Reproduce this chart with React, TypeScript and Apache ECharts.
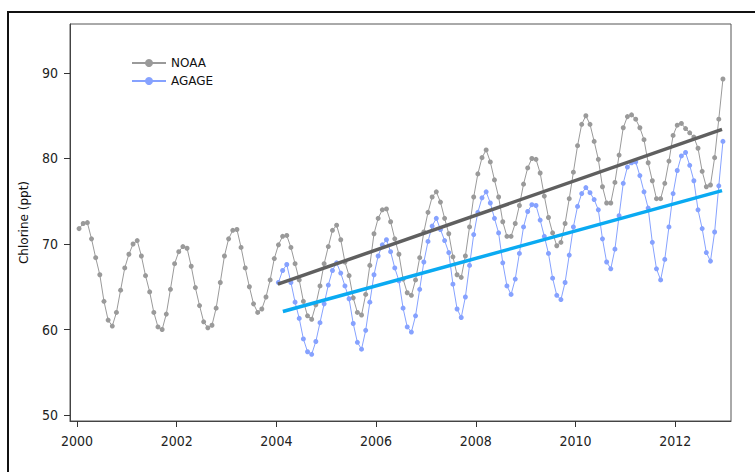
import React, { useEffect, useRef } from "react";
import * as echarts from "echarts";

// Monthly chlorine (ppt), NOAA from Jan 2000, AGAGE from Jan 2004
const noaaStartYear = 2000;
const noaaValues = [
  71.8, 72.4, 72.5, 70.6, 68.4, 66.4, 63.3, 61.1, 60.4, 62.0, 64.6, 67.2,
  68.8, 70.0, 70.4, 68.6, 66.3, 64.4, 62.0, 60.3, 60.0, 61.8, 64.7, 67.7,
  69.1, 69.7, 69.5, 67.4, 64.9, 62.8, 60.9, 60.2, 60.5, 62.5, 65.5, 68.6,
  70.6, 71.6, 71.7, 69.6, 67.2, 65.0, 63.0, 62.0, 62.4, 63.8, 65.8, 68.3,
  69.9, 70.9, 71.0, 69.6, 67.7, 65.8, 63.3, 61.6, 61.2, 62.9, 65.1, 67.7,
  69.7, 71.6, 72.2, 70.5, 67.9, 66.3, 63.7, 62.0, 61.7, 64.1, 67.5, 71.2,
  73.0, 74.0, 74.1, 72.6, 70.6, 68.8, 65.9, 64.3, 64.0, 65.8, 68.4, 71.4,
  73.7, 75.5, 76.1, 74.9, 73.0, 71.2, 68.5, 66.4, 66.1, 68.6, 72.0, 75.5,
  78.2, 80.1, 81.0, 79.6, 77.5, 75.5, 72.6, 70.9, 70.9, 72.4, 74.5, 77.0,
  78.9, 80.0, 79.9, 78.3, 75.6, 73.1, 71.3, 69.8, 70.2, 72.4, 75.3, 78.4,
  81.5, 84.0, 85.0, 84.0, 82.0, 79.9, 76.7, 74.8, 74.8, 77.2, 80.4, 83.6,
  84.9, 85.1, 84.6, 83.6, 82.2, 79.5, 77.4, 75.3, 75.3, 77.1, 79.7, 82.7,
  83.9, 84.1, 83.5, 83.0, 82.5, 81.2, 78.5, 76.7, 76.9, 80.1, 84.6, 89.3,
];

const agageStartYear = 2004;
const agageValues = [
  65.5, 66.9, 67.6, 65.5, 63.2, 61.3, 58.9, 57.4, 57.1, 58.6, 60.8, 63.0,
  65.2, 66.9, 67.8, 66.6, 65.1, 63.6, 60.7, 58.5, 57.7, 59.9, 63.2, 66.4,
  68.6, 69.9, 70.5, 69.1, 67.2, 65.7, 62.5, 60.3, 59.7, 61.6, 64.7, 67.9,
  70.3, 72.1, 73.0, 71.7, 70.4, 69.0, 65.3, 62.4, 61.4, 63.8, 67.5, 71.1,
  73.7, 75.4, 76.1, 74.8, 73.0, 71.3, 67.8, 65.1, 64.1, 65.9, 68.9, 72.0,
  73.8, 74.6, 74.5, 72.8, 70.9, 68.9, 66.0, 64.0, 63.5, 65.5, 68.7, 72.0,
  74.4, 75.9, 76.6, 76.0, 75.2, 74.0, 70.6, 67.9, 67.1, 69.4, 73.3, 77.1,
  79.0, 79.5, 79.6, 78.0, 76.1, 74.2, 70.2, 67.1, 65.8, 68.2, 72.0, 75.9,
  78.6, 80.3, 80.7, 79.2, 77.4, 74.0, 71.8, 69.0, 68.0, 71.4, 76.8, 82.0,
];

// Linear trend end points [year, ppt]
const noaaTrendYears = [2004.03, 2012.94];
const noaaTrendValues = [65.3, 83.4];
const agageTrendYears = [2004.13, 2012.94];
const agageTrendValues = [62.1, 76.25];

const xTickLabels = [2000, 2002, 2004, 2006, 2008, 2010, 2012];
const yTickLabels = [50, 60, 70, 80, 90];

const toMonthly = (startYear: number, vals: number[]) =>
  vals.map((v, i) => [startYear + (i + 0.5) / 12, v]);
const toPairs = (xs: number[], ys: number[]) => xs.map((x, i) => [x, ys[i]]);

export default function App() {
  const ref = useRef<HTMLDivElement>(null);
  useEffect(() => {
    if (!ref.current) return;
    const chart = echarts.init(ref.current, null, { renderer: "svg" });
    const tickFont = "'DejaVu Sans Condensed', 'DejaVu Sans', sans-serif";
    chart.setOption({
      animation: false,
      backgroundColor: "#fff",
      grid: {
        left: 70,
        top: 24,
        right: 24,
        bottom: 51,
        show: true,
        borderColor: "#555",
        borderWidth: 1,
        backgroundColor: "transparent",
      },
      legend: {
        orient: "vertical",
        left: 126,
        top: 52,
        itemWidth: 34,
        itemHeight: 10,
        itemGap: 6,
        data: ["NOAA", "AGAGE"],
        textStyle: { fontFamily: "'DejaVu Sans', sans-serif", fontSize: 12, color: "#111" },
      },
      graphic: [
        {
          type: "polyline",
          shape: { points: [[8, 472], [8, 12], [755, 12]] },
          style: { stroke: "#111", lineWidth: 2, fill: null },
          silent: true,
        },
      ],
      xAxis: {
        type: "value",
        min: 1999.86,
        max: 2013.12,
        splitLine: { show: false },
        axisLine: { show: true, onZero: false, lineStyle: { color: "#444", width: 1 } },
        axisTick: {
          show: true,
          length: 6,
          customValues: xTickLabels,
          lineStyle: { color: "#333" },
        },
        axisLabel: {
          customValues: xTickLabels,
          margin: 13,
          fontFamily: tickFont,
          fontSize: 14,
          color: "#222",
          formatter: (v: number) => String(Math.round(v)),
        },
      },
      yAxis: {
        type: "value",
        min: 49.3,
        max: 95.73,
        name: "Chlorine (ppt)",
        nameLocation: "middle",
        nameGap: 40,
        nameTextStyle: { fontFamily: "'DejaVu Sans', sans-serif", fontSize: 12, color: "#111" },
        splitLine: { show: false },
        axisLine: { show: true, onZero: false, lineStyle: { color: "#444", width: 1 } },
        axisTick: {
          show: true,
          length: 6,
          customValues: yTickLabels,
          lineStyle: { color: "#333" },
        },
        axisLabel: {
          customValues: yTickLabels,
          margin: 12,
          fontFamily: tickFont,
          fontSize: 14,
          color: "#222",
          formatter: (v: number) => String(Math.round(v)),
        },
      },
      series: [
        {
          name: "NOAA",
          type: "line",
          data: toMonthly(noaaStartYear, noaaValues),
          symbol: "circle",
          symbolSize: 5,
          showAllSymbol: true,
          itemStyle: { color: "#9a9a9a" },
          lineStyle: { color: "#9a9a9a", width: 1 },
          z: 2,
        },
        {
          name: "AGAGE",
          type: "line",
          data: toMonthly(agageStartYear, agageValues),
          symbol: "circle",
          symbolSize: 5,
          showAllSymbol: true,
          itemStyle: { color: "#86a2ff" },
          lineStyle: { color: "#86a2ff", width: 1 },
          z: 3,
        },
        {
          name: "NOAA trend",
          type: "line",
          data: toPairs(noaaTrendYears, noaaTrendValues),
          symbol: "none",
          lineStyle: { color: "#5f5f5f", width: 3.5 },
          z: 4,
        },
        {
          name: "AGAGE trend",
          type: "line",
          data: toPairs(agageTrendYears, agageTrendValues),
          symbol: "none",
          lineStyle: { color: "#0aaaf2", width: 3.5 },
          z: 4,
        },
      ],
    });
    return () => chart.dispose();
  }, []);
  return (
    <div
      ref={ref}
      style={{ position: "fixed", left: 0, top: 0, width: 755, height: 472 }}
    />
  );
}
